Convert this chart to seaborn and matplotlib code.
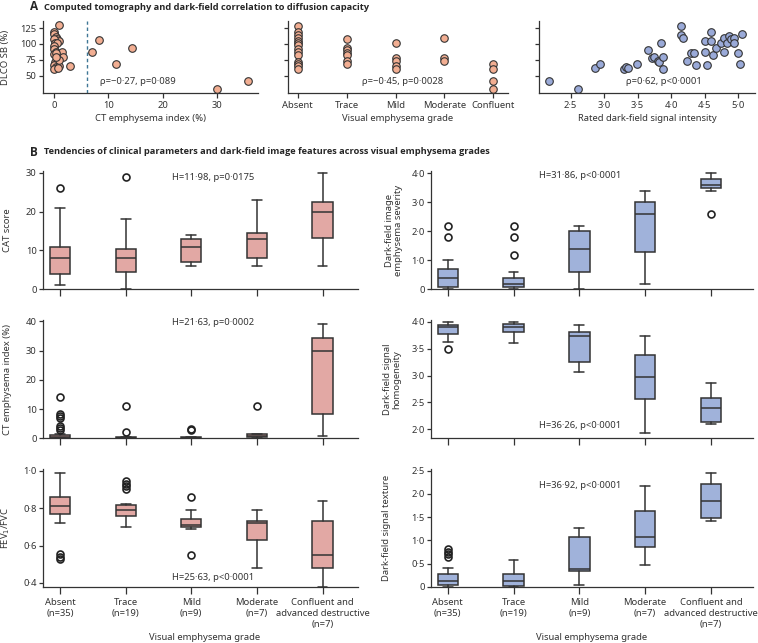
import numpy as np
import pandas as pd
import seaborn as sns
import matplotlib
matplotlib.use("Agg")
import matplotlib.pyplot as plt
from matplotlib.ticker import FuncFormatter

# ---- data ----
grades = ["Absent", "Trace", "Mild", "Moderate", "Confluent"]
grade_labels = ["Absent\n(n=35)", "Trace\n(n=19)", "Mild\n(n=9)", "Moderate\n(n=7)",
                "Confluent and\nadvanced destructive\n(n=7)"]

# A, left: CT emphysema index vs DLCO SB
ct_index = [0.0, 0.1, 0.3, 0.6, 1.0, 0.0, 0.2, 0.5, 0.0, 0.1, 0.4, 1.5, 0.0, 0.3, 1.6, 0.6, 0.2,
            0.5, 0.0, 0.3, 0.9, 0.1, 0.8, 1.0, 0.4, 1.0, 2.9, 7.0, 8.3, 11.5, 14.3, 30.0, 35.7]
ct_dlco = [119, 115, 111, 108, 104, 107, 102, 101, 96, 92, 88, 87, 84, 86, 80, 76, 72,
           70, 67, 64, 66, 61, 62, 75, 79, 130, 65, 87, 106, 69, 93, 29, 42]

# A, middle: DLCO SB per visual grade
dlco_absent = [128, 118, 114, 109, 105, 102, 99, 92, 88, 82, 72, 69, 65, 60]
dlco_trace = [108, 94, 91, 86, 82, 73, 69]
dlco_mild = [102, 78, 74, 65, 61]
dlco_moderate = [110, 78, 74]
dlco_confluent = [68, 61, 42, 30]

# A, right: rated dark-field intensity vs DLCO SB
df_intensity = [2.18, 2.61, 2.87, 2.94, 3.30, 3.32, 3.35, 3.49, 3.65, 3.72, 3.75, 3.81, 3.82, 3.85,
                3.88, 3.88, 4.14, 4.14, 4.18, 4.24, 4.30, 4.34, 4.37, 4.50, 4.50, 4.53, 4.60,
                4.60, 4.63, 4.67, 4.75, 4.79, 4.79, 4.83, 4.86, 4.89, 4.93, 4.93, 4.99, 5.02, 5.06]
df_dlco = [42, 30, 63, 69, 61, 64, 62, 68, 91, 78, 79, 74, 72, 102,
           80, 61, 128, 114, 110, 74, 86, 86, 67, 104, 88, 67, 118,
           104, 82, 94, 102, 110, 88, 102, 113, 107, 110, 102, 86, 69, 115]

# B: box statistics per grade (whisker low, Q1, median, Q3, whisker high, outliers)
cat_lo = [1, 0, 6, 6, 6]
cat_q1 = [4, 4.4, 7, 8, 13.3]
cat_med = [8, 8, 11, 13, 20]
cat_q3 = [11, 10.3, 13, 14.4, 22.4]
cat_hi = [21, 18, 14, 23, 30]
cat_out = [[26], [29], [], [], []]

sev_lo = [0, 0, 0, 0.2, 3.4]
sev_q1 = [0.07, 0.07, 0.6, 1.3, 3.5]
sev_med = [0.4, 0.2, 1.4, 2.6, 3.6]
sev_q3 = [0.7, 0.4, 2.0, 3.0, 3.8]
sev_hi = [1.0, 0.6, 2.2, 3.4, 4.0]
sev_out = [[1.8, 2.2], [1.2, 1.8, 2.2], [], [], [2.6]]

cti_lo = [0, 0, 0, 0.2, 0.7]
cti_q1 = [0.1, 0.05, 0.05, 0.4, 8.4]
cti_med = [0.4, 0.2, 0.2, 0.8, 29.8]
cti_q3 = [1.0, 0.4, 0.5, 1.3, 34.3]
cti_hi = [1.5, 0.6, 0.6, 1.4, 39.1]
cti_out = [[3.0, 3.5, 4.2, 7.0, 7.6, 8.2, 14.0], [2.2, 11.0], [2.7, 3.1], [11.1], []]

hom_lo = [3.63, 3.6, 3.07, 1.93, 2.1]
hom_q1 = [3.77, 3.81, 3.26, 2.57, 2.13]
hom_med = [3.9, 3.9, 3.74, 2.97, 2.4]
hom_q3 = [3.94, 3.97, 3.81, 3.39, 2.58]
hom_hi = [4.0, 4.0, 3.94, 3.74, 2.87]
hom_out = [[3.5], [], [], [], []]

fev_lo = [0.72, 0.70, 0.69, 0.48, 0.38]
fev_q1 = [0.77, 0.76, 0.70, 0.63, 0.48]
fev_med = [0.81, 0.79, 0.71, 0.72, 0.55]
fev_q3 = [0.86, 0.815, 0.74, 0.73, 0.73]
fev_hi = [0.99, 0.82, 0.79, 0.79, 0.84]
fev_out = [[0.53, 0.54, 0.555], [0.90, 0.92, 0.93, 0.945], [0.55, 0.86], [], []]

tex_lo = [0, 0, 0.05, 0.48, 1.41]
tex_q1 = [0.04, 0.03, 0.34, 0.86, 1.49]
tex_med = [0.12, 0.12, 0.39, 1.07, 1.84]
tex_q3 = [0.29, 0.28, 1.07, 1.64, 2.22]
tex_hi = [0.41, 0.59, 1.27, 2.17, 2.46]
tex_out = [[0.65, 0.7, 0.76, 0.81], [], [], [], []]

# ---- style ----
FS = 6.8
sns.set_theme(style="ticks")
plt.rcParams["font.family"] = ["Noto Sans", "DejaVu Sans"]
plt.rcParams.update({
    "font.size": FS,
    "axes.linewidth": 0.9,
    "axes.edgecolor": "#333333",
    "axes.labelcolor": "#333333",
    "xtick.color": "#333333",
    "ytick.color": "#333333",
    "xtick.labelsize": FS,
    "ytick.labelsize": FS,
    "axes.labelsize": FS,
    "xtick.major.size": 3.5,
    "ytick.major.size": 3,
    "xtick.major.width": 0.9,
    "ytick.major.width": 0.9,
    "xtick.major.pad": 2,
    "ytick.major.pad": 1.5,
})

ORANGE = "#F2AE92"
BLUE = "#9AAAD8"
PINK = "#E2A8A4"
BOXBLUE = "#A0B2DA"
EDGE = "#333333"
BOLD = ["Open Sans", "DejaVu Sans"]

W, H = 758, 643
fig = plt.figure(figsize=(W / 100, H / 100), dpi=100)


def axes_px(x0, y0, x1, y1):
    return fig.add_axes([x0 / W, 1 - y1 / H, (x1 - x0) / W, (y1 - y0) / H])


def dot(v, _p=None):
    if abs(v) < 1e-9:
        return "0"
    return f"{v:.1f}".replace(".", "\u00b7")


def note(x, y, s, ha="center"):
    fig.text(x / W, 1 - y / H, s, ha=ha, va="center", fontsize=FS, color="#333333")


def despine(ax):
    sns.despine(ax=ax)


# ---- titles ----
fig.text(30 / W, 1 - 7 / H, "A", fontsize=8.5, fontweight="bold", va="center", family=BOLD)
fig.text(44 / W, 1 - 7 / H, "Computed tomography and dark-field correlation to diffusion capacity",
         fontsize=6.7, fontweight="bold", va="center", family=BOLD)
fig.text(30 / W, 1 - 152 / H, "B", fontsize=8.5, fontweight="bold", va="center", family=BOLD)
fig.text(44 / W, 1 - 152 / H,
         "Tendencies of clinical parameters and dark-field image features across visual emphysema grades",
         fontsize=6.7, fontweight="bold", va="center", family=BOLD)

# ---- A: scatter panels ----
ylimA = (23, 136)
scat_kw = dict(s=30, edgecolor=EDGE, linewidth=0.8, zorder=3)

ax1 = axes_px(43, 21, 258, 93)
sns.scatterplot(x=ct_index, y=ct_dlco, color=ORANGE, ax=ax1, **scat_kw)
ax1.axvline(6, color="#3f7796", lw=1, ls=(0, (2.5, 2)), zorder=1)
ax1.set_xlim(-2, 37.5)
ax1.set_ylim(*ylimA)
ax1.set_xticks([0, 10, 20, 30])
ax1.set_yticks([50, 75, 100, 125])
ax1.set_xlabel("CT emphysema index (%)", labelpad=3)
ax1.set_ylabel("DLCO SB (%)")
ax1.yaxis.set_label_coords(-0.155, 0.5)
despine(ax1)
note(138, 82, "\u03c1=\u22120\u00b727, p=0\u00b7089")

grade_df = pd.DataFrame({
    "grade": ["Absent"] * len(dlco_absent) + ["Trace"] * len(dlco_trace) + ["Mild"] * len(dlco_mild)
    + ["Moderate"] * len(dlco_moderate) + ["Confluent"] * len(dlco_confluent),
    "dlco": dlco_absent + dlco_trace + dlco_mild + dlco_moderate + dlco_confluent,
})
ax2 = axes_px(288, 21, 508, 93)
sns.stripplot(data=grade_df, x="grade", y="dlco", order=grades, jitter=False, color=ORANGE,
              size=5.4, edgecolor=EDGE, linewidth=0.8, ax=ax2, zorder=3)
ax2.set_xlim(-0.2, 4.3)
ax2.set_ylim(*ylimA)
ax2.set_yticks([50, 75, 100, 125])
ax2.set_yticklabels([])
ax2.set_ylabel("")
ax2.set_xlabel("Visual emphysema grade", labelpad=3)
despine(ax2)
note(403, 82, "\u03c1=\u22120\u00b745, p=0\u00b70028")

ax3 = axes_px(539, 21, 755, 93)
sns.scatterplot(x=df_intensity, y=df_dlco, color=BLUE, ax=ax3, **scat_kw)
ax3.set_xlim(2.03, 5.25)
ax3.set_ylim(*ylimA)
ax3.set_xticks([2.5, 3.0, 3.5, 4.0, 4.5, 5.0])
ax3.xaxis.set_major_formatter(FuncFormatter(dot))
ax3.set_yticks([50, 75, 100, 125])
ax3.set_yticklabels([])
ax3.set_xlabel("Rated dark-field signal intensity", labelpad=3)
despine(ax3)
note(664, 82, "\u03c1=0\u00b762, p<0\u00b70001")


# ---- B: box panels ----
def make_stats(lo, q1, med, q3, hi, out):
    return [dict(whislo=a, q1=b, med=c, q3=d, whishi=e, fliers=f)
            for a, b, c, d, e, f in zip(lo, q1, med, q3, hi, out)]


def box_panel(box, stats, color, ylim, yticks, ylabel, label_x, fmt=None, bottom=False,
              xlim=(-0.26, 4.54)):
    ax = axes_px(*box)
    ax.bxp(stats, positions=range(len(grades)), widths=0.31, capwidths=0.15, patch_artist=True,
           boxprops=dict(facecolor=color, edgecolor=EDGE, linewidth=1.1),
           medianprops=dict(color=EDGE, linewidth=1.1),
           whiskerprops=dict(color=EDGE, linewidth=1.1),
           capprops=dict(color=EDGE, linewidth=1.1),
           flierprops=dict(marker="o", markerfacecolor="none", markeredgecolor="#222222",
                           markersize=5, markeredgewidth=1.2))
    ax.set_xlim(*xlim)
    ax.set_ylim(*ylim)
    ax.set_yticks(yticks)
    if fmt is not None:
        ax.yaxis.set_major_formatter(FuncFormatter(fmt))
    ax.set_xticks(range(len(grades)))
    if bottom:
        ax.set_xticklabels(grade_labels, linespacing=1.25)
        ax.tick_params(axis="x", pad=3)
    else:
        ax.set_xticklabels([])
    ax.tick_params(axis="x", length=5)
    ax.set_ylabel(ylabel, linespacing=1.05)
    ax.yaxis.set_label_coords(label_x, 0.5)
    despine(ax)
    return ax


L = (43, 358)
R = (431, 753)
rows = [(171, 289.3), (320, 438.3), (469, 587)]

box_panel((L[0], rows[0][0], L[1], rows[0][1]), make_stats(cat_lo, cat_q1, cat_med, cat_q3, cat_hi, cat_out),
          PINK, (0, 30.44), [0, 10, 20, 30], "CAT score", -0.098)
note(213, 177, "H=11\u00b798, p=0\u00b70175")

box_panel((R[0], rows[0][0], R[1], rows[0][1]), make_stats(sev_lo, sev_q1, sev_med, sev_q3, sev_hi, sev_out),
          BOXBLUE, (0, 4.08), [0, 1, 2, 3, 4], "Dark-field image\nemphysema severity", -0.087, fmt=dot,
          xlim=(-0.255, 4.64))
note(580, 175, "H=31\u00b786, p<0\u00b70001")

box_panel((L[0], rows[1][0], L[1], rows[1][1]), make_stats(cti_lo, cti_q1, cti_med, cti_q3, cti_hi, cti_out),
          PINK, (0, 40.44), [0, 10, 20, 30, 40], "CT emphysema index (%)", -0.098)
note(213, 322, "H=21\u00b763, p=0\u00b70002")

box_panel((R[0], rows[1][0], R[1], rows[1][1]), make_stats(hom_lo, hom_q1, hom_med, hom_q3, hom_hi, hom_out),
          BOXBLUE, (1.832, 4.037), [2.0, 2.5, 3.0, 3.5, 4.0], "Dark-field signal\nhomogeneity", -0.093,
          fmt=dot, xlim=(-0.255, 4.64))
note(580, 426, "H=36\u00b726, p<0\u00b70001")

box_panel((L[0], rows[2][0], L[1], rows[2][1]), make_stats(fev_lo, fev_q1, fev_med, fev_q3, fev_hi, fev_out),
          PINK, (0.3786, 1.009), [0.4, 0.6, 0.8, 1.0], "FEV$_1$/FVC", -0.098, fmt=dot, bottom=True)
note(213, 578, "H=25\u00b763, p<0\u00b70001")

box_panel((R[0], rows[2][0], R[1], rows[2][1]), make_stats(tex_lo, tex_q1, tex_med, tex_q3, tex_hi, tex_out),
          BOXBLUE, (0, 2.536), [0, 0.5, 1.0, 1.5, 2.0, 2.5], "Dark-field signal texture", -0.125,
          fmt=dot, bottom=True, xlim=(-0.255, 4.64))
note(580, 485, "H=36\u00b792, p<0\u00b70001")

note(205, 637, "Visual emphysema grade")
note(592, 637, "Visual emphysema grade")

fig.savefig("out.png", dpi=100)
